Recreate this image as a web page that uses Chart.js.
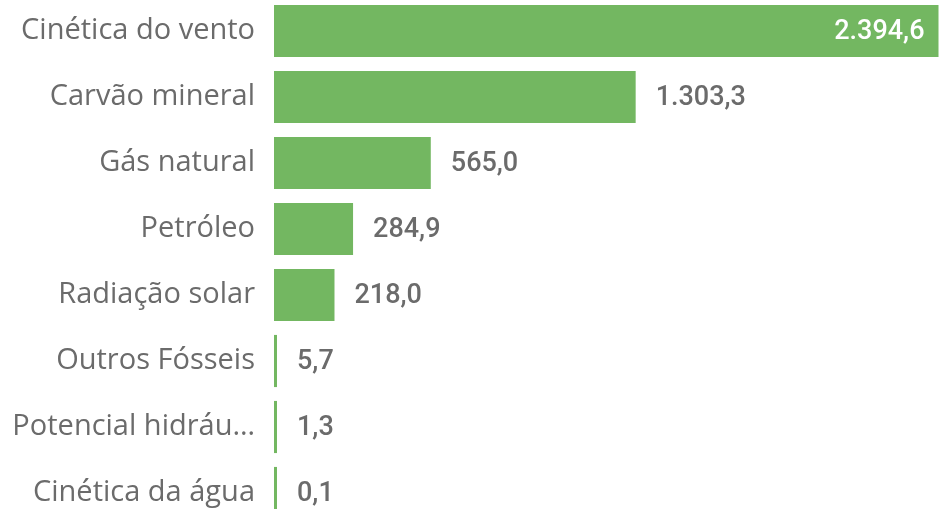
<!DOCTYPE html>
<html lang="pt">
<head>
<meta charset="UTF-8">
<title>Energia por fonte</title>
<style>
    html, body {
        margin: 0;
        padding: 0;
        background: #fff;
        overflow: hidden;
    }
    #chart-box {
        position: absolute;
        left: 0;
        top: -2px; /* the first row starts right at the top edge */
        width: 940px;
        height: 528px;
    }
</style>
</head>
<body>
<div id="chart-box">
    <canvas id="fontes"></canvas>
</div>

<script src="https://cdn.jsdelivr.net/npm/chart.js"></script>
<script>
    const categorias = ['Cinética do vento', 'Carvão mineral', 'Gás natural', 'Petróleo',
                        'Radiação solar', 'Outros Fósseis', 'Potencial hidráu…', 'Cinética da água'];
    const valores = [2394.6, 1303.3, 565.0, 284.9, 218.0, 5.7, 1.3, 0.1];
    const rotulos = ['2.394,6', '1.303,3', '565,0', '284,9', '218,0', '5,7', '1,3', '0,1'];

    const verde = '#73b761';

    // desenha o valor de cada barra (dentro da barra quando não cabe fora)
    const rotuloValores = {
        id: 'rotuloValores',
        afterDatasetsDraw(chart) {
            const ctx = chart.ctx;
            const meta = chart.getDatasetMeta(0);
            const area = chart.chartArea;
            ctx.save();
            ctx.font = '500 27px Roboto, "DejaVu Sans", sans-serif';
            ctx.textBaseline = 'middle';
            meta.data.forEach((bar, i) => {
                const txt = rotulos[i];
                const w = ctx.measureText(txt).width;
                if (bar.x + 20 + w > area.right) {
                    ctx.fillStyle = '#ffffff';
                    ctx.textAlign = 'right';
                    ctx.fillText(txt, bar.x - 14, bar.y + 1);
                } else {
                    ctx.fillStyle = '#6b6b6b';
                    ctx.textAlign = 'left';
                    ctx.fillText(txt, bar.x + 20, bar.y + 1);
                }
            });
            ctx.restore();
        }
    };

    new Chart(document.getElementById('fontes'), {
        type: 'bar',
        data: {
            labels: categorias,
            datasets: [{
                data: valores,
                backgroundColor: verde,
                borderWidth: 0,
                categoryPercentage: 1.0,
                barPercentage: 0.79,
                minBarLength: 3
            }]
        },
        options: {
            indexAxis: 'y',
            responsive: true,
            maintainAspectRatio: false,
            animation: false,
            layout: { padding: 0 },
            plugins: {
                legend: { display: false },
                tooltip: { enabled: false }
            },
            scales: {
                x: {
                    display: false,
                    min: 0,
                    max: 2400
                },
                y: {
                    grid: { display: false },
                    border: { display: false },
                    ticks: {
                        color: '#6b6b6b',
                        padding: 11,
                        font: { family: '"Open Sans", "Noto Sans", sans-serif', size: 29 }
                    },
                    afterFit(scale) {
                        scale.width = 274;
                        // no extra room above/below for the label heights
                        scale.paddingTop = 0;
                        scale.paddingBottom = 0;
                    }
                }
            }
        },
        plugins: [rotuloValores]
    });
</script>
</body>
</html>
